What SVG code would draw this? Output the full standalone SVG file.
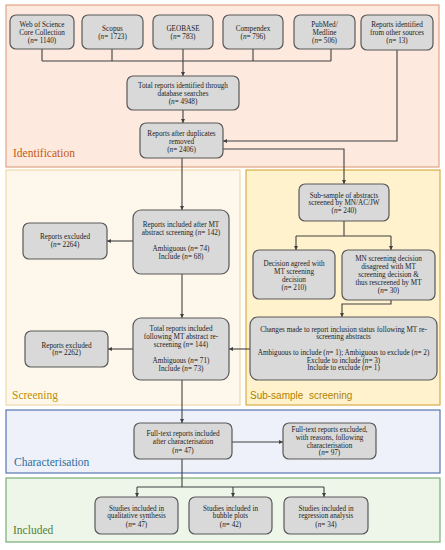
<svg xmlns="http://www.w3.org/2000/svg" width="445" height="550" viewBox="0 0 445 550">
<defs>
<style>
.node rect{fill:#d9d9d9;stroke:#595959;stroke-width:1.2}
.node text{font-family:"Liberation Serif","Times New Roman",serif;font-size:7.2px;fill:#222;text-anchor:middle}
.it{font-style:italic}
.conn path{fill:none;stroke:#404040;stroke-width:1.1}
.lbl{font-family:"Liberation Serif","Times New Roman",serif;font-size:11.5px}
</style>
<marker id="ah" viewBox="0 0 6 6" refX="6" refY="3" markerWidth="4" markerHeight="4" orient="auto" markerUnits="userSpaceOnUse">
<path d="M0,0 L6,3 L0,6 z" fill="#404040"/>
</marker>
</defs>
<rect width="445" height="550" fill="#ffffff"/>
<g id="panels">
<rect x="6" y="5" width="433" height="162" fill="#fde9de" stroke="#e2a584" stroke-width="1.2"/>
<rect x="6" y="170" width="234" height="235" fill="#fef8ec" stroke="#efd9a9" stroke-width="1.2"/>
<rect x="246" y="170" width="194" height="235" fill="#fff2cc" stroke="#d8ac45" stroke-width="1.2"/>
<rect x="6" y="410" width="434" height="63" fill="#eef1f9" stroke="#5876b0" stroke-width="1.2"/>
<rect x="6" y="478" width="434" height="64" fill="#eef6ea" stroke="#7aae74" stroke-width="1.2"/>
<text class="lbl" x="13" y="157" fill="#c55a11">Identification</text>
<text class="lbl" x="12" y="399" fill="#bf8f00">Screening</text>
<text x="250" y="399" fill="#b07f00" font-family="'Liberation Sans',Arial,sans-serif" font-size="10px" xml:space="preserve">Sub-sample  screening</text>
<text class="lbl" x="14" y="466" fill="#2e6e9e">Characterisation</text>
<text class="lbl" x="13" y="534" fill="#538135">Included</text>
</g>
<g class="conn" id="connectors">
<path d="M42,49 V61 M112,49 V61 M253,49 V61 M331,49 V61 M42,61 H331"/>
<path d="M183,49 V76" marker-end="url(#ah)"/>
<path d="M183,110 V123" marker-end="url(#ah)"/>
<path d="M397,50 V141 H223" marker-end="url(#ah)"/>
<path d="M223,149 H344 V184" marker-end="url(#ah)"/>
<path d="M182,158 V210" marker-end="url(#ah)"/>
<path d="M133,241 H107" marker-end="url(#ah)"/>
<path d="M182,274 V318" marker-end="url(#ah)"/>
<path d="M133,349 H108" marker-end="url(#ah)"/>
<path d="M250,349 H229" marker-end="url(#ah)"/>
<path d="M344,221 V236 M296,236 H391"/>
<path d="M296,236 V250" marker-end="url(#ah)"/>
<path d="M391,236 V250" marker-end="url(#ah)"/>
<path d="M391,300 V304 H342 V317" marker-end="url(#ah)"/>
<path d="M182,380 V423" marker-end="url(#ah)"/>
<path d="M232,442 H283" marker-end="url(#ah)"/>
<path d="M182,459 V487 M137,487 H324"/>
<path d="M137,487 V497" marker-end="url(#ah)"/>
<path d="M233,487 V497" marker-end="url(#ah)"/>
<path d="M324,487 V497" marker-end="url(#ah)"/>
</g>
<g class="node" id="wos"><rect x="10" y="15" width="64" height="34" rx="6"/>
<text x="42" y="27">Web of Science</text><text x="42" y="35">Core Collection</text><text x="42" y="43">(<tspan class="it">n</tspan>= 1140)</text></g>
<g class="node" id="scopus"><rect x="82" y="15" width="61" height="34" rx="6"/>
<text x="112.5" y="31">Scopus</text><text x="112.5" y="38.5">(<tspan class="it">n</tspan>= 1723)</text></g>
<g class="node" id="geobase"><rect x="153" y="15" width="60" height="34" rx="6"/>
<text x="183" y="31">GEOBASE</text><text x="183" y="38.5">(<tspan class="it">n</tspan>= 783)</text></g>
<g class="node" id="compendex"><rect x="223" y="15" width="60" height="34" rx="6"/>
<text x="253" y="31">Compendex</text><text x="253" y="38.5">(<tspan class="it">n</tspan>= 796)</text></g>
<g class="node" id="pubmed"><rect x="294" y="15" width="61" height="34" rx="6"/>
<text x="324.5" y="27">PubMed/</text><text x="324.5" y="35">Medline</text><text x="324.5" y="43">(<tspan class="it">n</tspan>= 506)</text></g>
<g class="node" id="other"><rect x="361" y="15" width="72" height="35" rx="6"/>
<text x="397" y="27">Reports identified</text><text x="397" y="35">from other sources</text><text x="397" y="43">(<tspan class="it">n</tspan>= 13)</text></g>
<g class="node" id="total"><rect x="127" y="76" width="112" height="34" rx="6"/>
<text x="183" y="87.5">Total reports identified through</text><text x="183" y="95.5">database searches</text><text x="183" y="103.5">(<tspan class="it">n</tspan>= 4948)</text></g>
<g class="node" id="dedup"><rect x="140" y="123" width="83" height="35" rx="6"/>
<text x="181.5" y="136">Reports after duplicates</text><text x="181.5" y="143.5">removed</text><text x="181.5" y="151.5">(<tspan class="it">n</tspan>= 2406)</text></g>
<g class="node" id="subsample"><rect x="299" y="184" width="90" height="37" rx="6"/>
<text x="344" y="197.5">Sub-sample of abstracts</text><text x="344" y="205">screened by MN/AC/JW</text><text x="344" y="213">(<tspan class="it">n</tspan>= 240)</text></g>
<g class="node" id="agreed"><rect x="253" y="250" width="82" height="49" rx="6"/>
<text x="294" y="266">Decision agreed with</text><text x="294" y="274">MT screening</text><text x="294" y="282">decision</text><text x="294" y="290">(<tspan class="it">n</tspan>= 210)</text></g>
<g class="node" id="disagreed"><rect x="342" y="250" width="93" height="50" rx="6"/>
<text x="388.5" y="261">MN screening decision</text><text x="388.5" y="269">disagreed with MT</text><text x="388.5" y="277">screening decision &amp;</text><text x="388.5" y="285">thus rescreened by MT</text><text x="388.5" y="293">(<tspan class="it">n</tspan>= 30)</text></g>
<g class="node" id="changes"><rect x="250" y="317" width="187" height="63" rx="8"/>
<text x="343.5" y="331.5">Changes made to report inclusion status following MT re-</text><text x="343.5" y="339.2">screening abstracts</text>
<text x="343.5" y="355">Ambiguous to include (<tspan class="it">n</tspan>= 1); Ambiguous to exclude (<tspan class="it">n</tspan>= 2)</text><text x="343.5" y="362.7">Exclude to include (<tspan class="it">n</tspan>= 3)</text><text x="343.5" y="370.4">Include to exclude (<tspan class="it">n</tspan>= 1)</text></g>
<g class="node" id="mtscreen"><rect x="133" y="210" width="96" height="64" rx="8"/>
<text x="181" y="226.8">Reports included after MT</text><text x="181" y="234.8">abstract screening (<tspan class="it">n</tspan>= 142)</text>
<text x="181" y="250.8">Ambiguous (<tspan class="it">n</tspan>= 74)</text><text x="181" y="258.5">Include (<tspan class="it">n</tspan>= 68)</text></g>
<g class="node" id="excl1"><rect x="23" y="223" width="84" height="36" rx="6"/>
<text x="65" y="239.2">Reports excluded</text><text x="65" y="246.8">(<tspan class="it">n</tspan>= 2264)</text></g>
<g class="node" id="rescreen"><rect x="133" y="318" width="96" height="62" rx="8"/>
<text x="181" y="331.2">Total reports included</text><text x="181" y="338.8">following MT abstract re-</text><text x="181" y="346.8">screening (<tspan class="it">n</tspan>= 144)</text>
<text x="181" y="362.8">Ambiguous (<tspan class="it">n</tspan>= 71)</text><text x="181" y="370.5">Include (<tspan class="it">n</tspan>= 73)</text></g>
<g class="node" id="excl2"><rect x="25" y="331" width="83" height="36" rx="6"/>
<text x="66.5" y="347.5">Reports excluded</text><text x="66.5" y="355.2">(<tspan class="it">n</tspan>= 2262)</text></g>
<g class="node" id="fulltext"><rect x="134" y="423" width="98" height="36" rx="6"/>
<text x="183" y="436">Full-text reports included</text><text x="183" y="444">after characterisation</text><text x="183" y="452.5">(<tspan class="it">n</tspan>= 47)</text></g>
<g class="node" id="ftexcl"><rect x="283" y="423" width="93" height="36" rx="6"/>
<text x="329.5" y="432">Full-text reports excluded,</text><text x="329.5" y="439.7">with reasons, following</text><text x="329.5" y="447.5">characterisation</text><text x="329.5" y="455.3">(<tspan class="it">n</tspan>= 97)</text></g>
<g class="node" id="qual"><rect x="95" y="497" width="83" height="37" rx="6"/>
<text x="136.5" y="510.5">Studies included in</text><text x="136.5" y="518.2">qualitative synthesis</text><text x="136.5" y="527">(<tspan class="it">n</tspan>= 47)</text></g>
<g class="node" id="bubble"><rect x="189" y="497" width="83" height="37" rx="6"/>
<text x="230.5" y="510.5">Studies included in</text><text x="230.5" y="518.2">bubble plots</text><text x="230.5" y="527">(<tspan class="it">n</tspan>= 42)</text></g>
<g class="node" id="regression"><rect x="284" y="497" width="84" height="37" rx="6"/>
<text x="326" y="510.5">Studies included in</text><text x="326" y="518.2">regression analysis</text><text x="326" y="527">(<tspan class="it">n</tspan>= 34)</text></g>
</svg>
